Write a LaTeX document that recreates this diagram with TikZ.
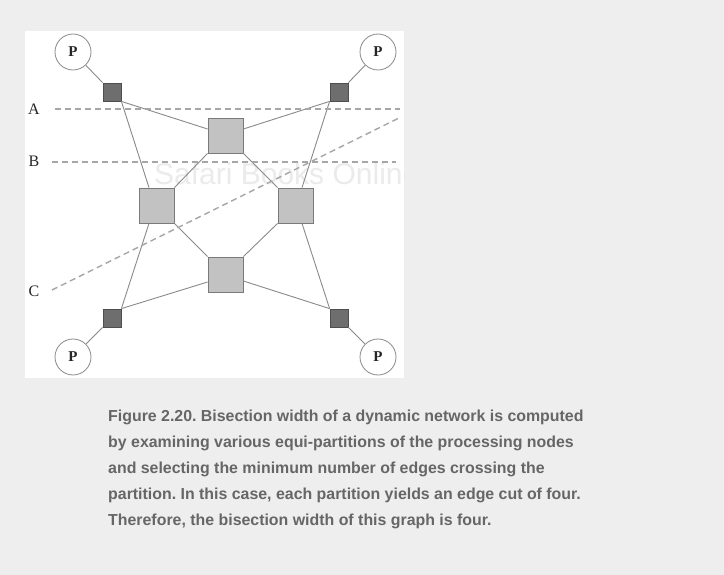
\documentclass[tikz,border=0pt]{standalone}
\usepackage{fontspec}
\setmainfont{Liberation Serif}
\newfontfamily\capfont{Liberation Sans}
\usetikzlibrary{calc}
\definecolor{bg}{HTML}{EEEEEE}
\definecolor{edgecol}{HTML}{8A8A8A}
\definecolor{dashcol}{HTML}{A6A6A6}
\definecolor{bigfill}{HTML}{C2C2C2}
\definecolor{bigdraw}{HTML}{7A7A7A}
\definecolor{smallfill}{HTML}{6E6E6E}
\definecolor{smalldraw}{HTML}{4E4E4E}
\definecolor{captext}{HTML}{666666}
\definecolor{wmark}{HTML}{EBEBEB}
\tikzset{
  bigsw/.style={draw=bigdraw, fill=bigfill, minimum size=35pt, inner sep=0pt, line width=0.8pt},
  smallsw/.style={draw=smalldraw, fill=smallfill, minimum size=18pt, inner sep=0pt, line width=0.8pt},
  proc/.style={circle, draw=edgecol, fill=white, minimum size=36pt, inner sep=0pt, line width=0.8pt, font=\bfseries\fontsize{15}{15}\selectfont, text=black!85},
  link/.style={draw=edgecol, line width=0.9pt},
  cut/.style={draw=dashcol, line width=1.4pt, dash pattern=on 6pt off 4pt},
  cutlabel/.style={font=\fontsize{16}{16}\selectfont, inner sep=0pt, text=black!85},
  capline/.style={anchor=base west, inner sep=0pt, text=captext, font=\capfont\bfseries\fontsize{15.9}{15.9}\selectfont}
}
\begin{document}
\frenchspacing
\begin{tikzpicture}[x=1pt,y=-1pt]
\fill[bg] (0,0) rectangle (724,575);
\useasboundingbox (0,0) rectangle (724,575);
\fill[white] (25,31) rectangle (404,378);

% watermark
\begin{scope}
\clip (25,31) rectangle (404,378);
\node[anchor=base west, inner sep=0pt, text=wmark, font=\capfont\fontsize{30}{30}\selectfont] (wm) at (154,185) {Safari Books Online};
\end{scope}

% switches
\node[smallsw] (s1) at (112,92) {};
\node[smallsw] (s2) at (339,92) {};
\node[smallsw] (s3) at (112,318) {};
\node[smallsw] (s4) at (339,318) {};
\node[bigsw] (T) at (225.5,135.5) {};
\node[bigsw] (L) at (156.5,205.5) {};
\node[bigsw] (R) at (295.5,205.5) {};
\node[bigsw] (B) at (225.5,274.5) {};

% processors
\node[proc] (p1) at (73,52) {P};
\node[proc] (p2) at (378,52) {P};
\node[proc] (p3) at (73,357) {P};
\node[proc] (p4) at (378,357) {P};

% links
\draw[link] (s1.south east) -- ($(T.west)+(0,-6.5)$);
\draw[link] (s1.south east) -- ($(L.north)+(-7.5,0)$);
\draw[link] (T.south west) -- (L.north east);
\draw[link] (T.south east) -- (R.north west);
\draw[link] (s2.south west) -- ($(T.east)+(0,-6.5)$);
\draw[link] (s2.south west) -- ($(R.north)+(6.5,0)$);
\draw[link] (s3.north east) -- ($(L.south)+(-7.5,0)$);
\draw[link] (s3.north east) -- ($(B.west)+(0,7.5)$);
\draw[link] (L.south east) -- (B.north west);
\draw[link] (R.south west) -- (B.north east);
\draw[link] ($(B.east)+(0,6.5)$) -- (s4.north west);
\draw[link] ($(R.south)+(6.5,0)$) -- (s4.north west);
\draw[link] (p1) -- (s1.north west);
\draw[link] (p2) -- (s2.north east);
\draw[link] (p3) -- (s3.south west);
\draw[link] (p4) -- (s4.south east);

% cuts
\node[cutlabel] (la) at (34,109) {A};
\node[cutlabel] (lb) at (34,161) {B};
\node[cutlabel] (lc) at (34,291) {C};
\coordinate (a1) at (55,109);
\coordinate (a2) at (400,109);
\coordinate (b1) at (52,162);
\coordinate (b2) at (396,162);
\coordinate (c1) at (52,290);
\coordinate (c2) at (399,118);
\draw[cut] (a1) -- (a2);
\draw[cut] (b1) -- (b2);
\draw[cut] (c1) -- (c2);

% caption
\node[capline] (cap1) at (108,421) {Figure 2.20. Bisection width of a dynamic network is computed};
\node[capline] (cap2) at (108,447) {by examining various equi-partitions of the processing nodes};
\node[capline] (cap3) at (108,473) {and selecting the minimum number of edges crossing the};
\node[capline] (cap4) at (108,499) {partition. In this case, each partition yields an edge cut of four.};
\node[capline] (cap5) at (108,525) {Therefore, the bisection width of this graph is four.};
\end{tikzpicture}
\end{document}
